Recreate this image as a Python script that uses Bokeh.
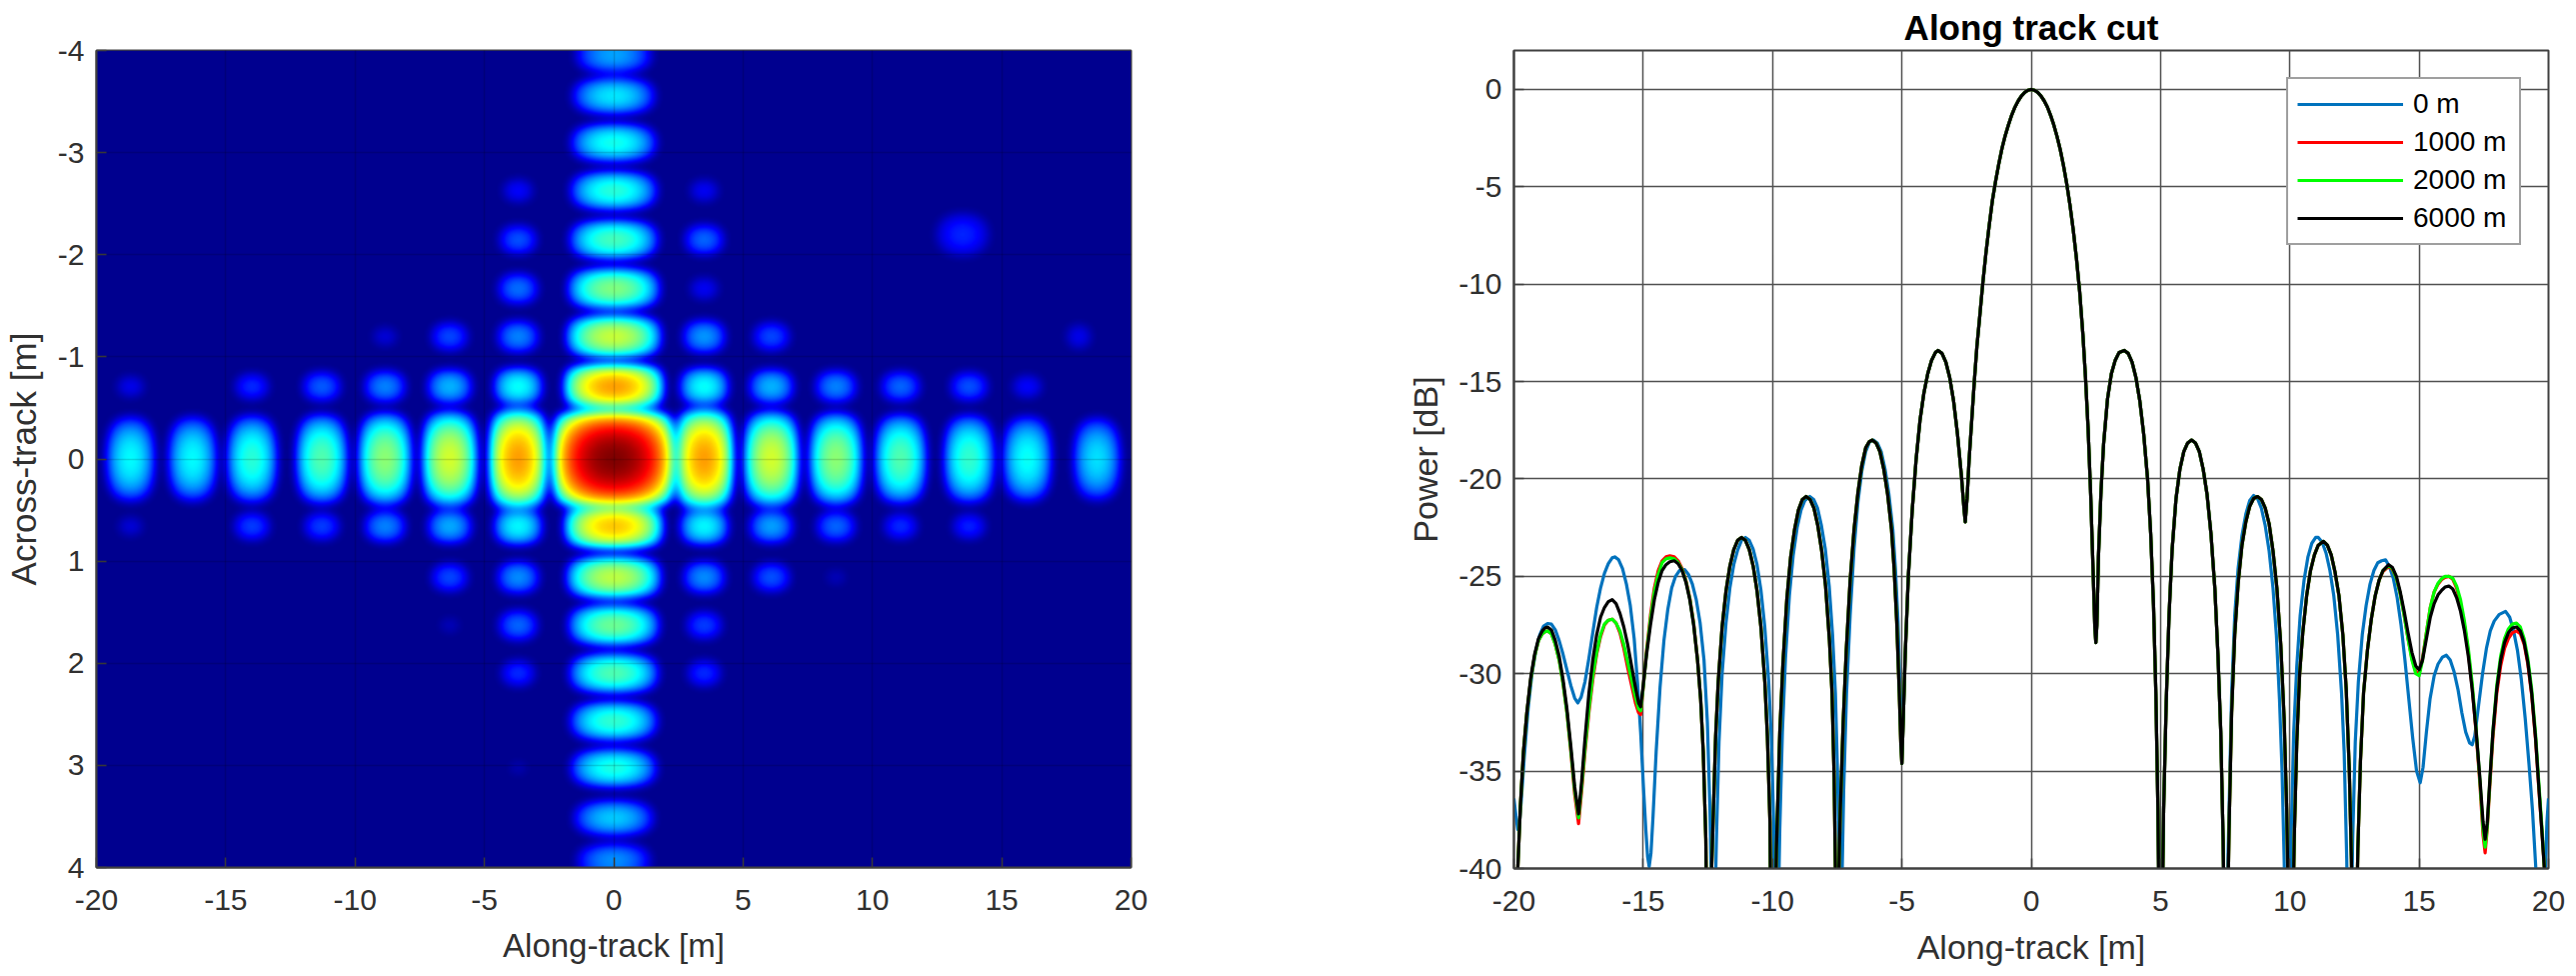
import numpy as np
from bokeh.embed import file_html
from bokeh.layouts import row
from bokeh.models import FixedTicker, LinearColorMapper, Range1d
from bokeh.plotting import figure
from bokeh.resources import INLINE

# ---------- left panel: lobes ----------
along_cols = [-18.7, -16.3, -14.0, -11.3, -8.85, -6.35, -3.7, 0.0, 3.5, 6.1, 8.6, 11.1, 13.75, 16.0, 18.7]
across_rows = [-3.95, -3.56, -3.1, -2.63, -2.15, -1.67, -1.2, -0.71, 0.0, 0.66, 1.16, 1.63, 2.1, 2.57, 3.03, 3.52, 3.93]
lobe_peaks = [
    [0, 0, 0, 0, 0, 0, 0, .28, 0, 0, 0, 0, 0, 0, 0],
    [0, 0, 0, 0, 0, 0, 0, .35, 0, 0, 0, 0, 0, 0, 0],
    [0, 0, 0, 0, 0, 0, 0, .39, 0, 0, 0, 0, 0, 0, 0],
    [0, 0, 0, 0, 0, 0, .12, .41, .11, 0, 0, 0, 0, 0, 0],
    [0, 0, 0, 0, 0, 0, .20, .44, .22, 0, 0, 0, 0, 0, 0],
    [0, 0, 0, 0, 0, 0, .23, .50, .11, 0, 0, 0, 0, 0, 0],
    [0, 0, 0, 0, .08, .19, .25, .57, .27, .19, 0, 0, 0, 0, 0],
    [.10, 0, .16, .21, .25, .30, .38, .72, .38, .30, .25, .22, .20, .12, 0],
    [.37, .37, .41, .45, .51, .58, .72, 1.0, .72, .58, .51, .45, .42, .38, .34],
    [.08, 0, .18, .18, .25, .29, .37, .68, .37, .28, .22, .16, .15, 0, 0],
    [0, 0, 0, 0, 0, .19, .26, .56, .26, .20, .05, 0, 0, 0, 0],
    [0, 0, 0, 0, 0, .05, .22, .48, .18, 0, 0, 0, 0, 0, 0],
    [0, 0, 0, 0, 0, 0, .16, .45, .16, 0, 0, 0, 0, 0, 0],
    [0, 0, 0, 0, 0, 0, 0, .42, 0, 0, 0, 0, 0, 0, 0],
    [0, 0, 0, 0, 0, 0, .04, .40, 0, 0, 0, 0, 0, 0, 0],
    [0, 0, 0, 0, 0, 0, 0, .32, 0, 0, 0, 0, 0, 0, 0],
    [0, 0, 0, 0, 0, 0, 0, .26, 0, 0, 0, 0, 0, 0, 0],
]
stray_x = [13.5, 18.0]
stray_y = [-2.2, -1.2]
stray_peak = [.15, .10]
stray_half_x = [2.0, 1.2]
stray_half_y = [.42, .3]

heat_xticks = [-20, -15, -10, -5, 0, 5, 10, 15, 20]
heat_yticks = [-4, -3, -2, -1, 0, 1, 2, 3, 4]
heat_xlabels = ["-20", "-15", "-10", "-5", "0", "5", "10", "15", "20"]
heat_ylabels = ["-4", "-3", "-2", "-1", "0", "1", "2", "3", "4"]

# ---------- right panel: cuts ----------
left_x = [-20, -19.9, -19.85, -19.75, -19.63, -19.5, -19.35, -19.2, -19.05, -18.9, -18.8, -18.7, -18.55, -18.4, -18.25, -18.1, -17.95, -17.8, -17.65, -17.5,
          -17.38, -17.25, -17.1, -16.95, -16.8, -16.65, -16.5, -16.35, -16.2, -16.05, -15.9, -15.75, -15.6, -15.45, -15.3, -15.18, -15.1,
          -15, -14.87, -14.72, -14.57, -14.42, -14.27, -14.12, -13.97, -13.8, -13.65, -13.5, -13.35, -13.2, -13.05, -12.9, -12.78, -12.68, -12.58, -12.52]
black_left = [-47, -42, -40, -36.8, -34, -32, -30.2, -29, -28.2, -27.8, -27.65, -27.6, -27.75, -28.3, -29.1, -30.3, -31.8, -33.7, -35.8, -37.2,
              -35.5, -33.3, -31, -29.3, -28, -27.1, -26.6, -26.3, -26.2, -26.4, -26.9, -27.6, -28.5, -29.6, -30.7, -31.5, -31.7,
              -30.6, -29, -27.5, -26.2, -25.3, -24.7, -24.4, -24.25, -24.2, -24.35, -24.7, -25.3, -26.2, -27.5, -29.3, -31.3, -34, -38.5, -46]
red_left = [-47, -42, -40, -36.8, -34, -32, -30.3, -29.1, -28.3, -27.95, -27.85, -27.8, -27.95, -28.5, -29.3, -30.5, -32, -34, -36.2, -37.7,
            -36, -34, -32, -30.3, -29, -28.1, -27.5, -27.25, -27.2, -27.4, -27.9, -28.7, -29.7, -30.6, -31.5, -32, -32.1,
            -30.7, -28.8, -27, -25.6, -24.7, -24.2, -24, -23.95, -24, -24.2, -24.6, -25.2, -26.1, -27.4, -29.3, -31.3, -34, -38.5, -46]
green_left = [-47, -42, -40, -36.8, -34, -32, -30.3, -29.1, -28.3, -27.95, -27.85, -27.8, -27.95, -28.5, -29.3, -30.5, -32, -33.9, -36, -37.4,
              -35.8, -33.8, -31.8, -30.1, -28.9, -28, -27.45, -27.25, -27.2, -27.4, -27.8, -28.5, -29.4, -30.3, -31.2, -31.8, -31.9,
              -30.7, -28.9, -27.2, -25.8, -24.9, -24.3, -24.1, -24.05, -24.1, -24.3, -24.65, -25.25, -26.15, -27.45, -29.3, -31.3, -34, -38.5, -46]
shared_mid = [
    (-12.45, -50), (-12.4, -42), (-12.3, -37.6), (-12.2, -33.2), (-12.1, -30.4), (-11.95, -27.6), (-11.8, -25.75), (-11.65, -24.47),
    (-11.5, -23.63), (-11.35, -23.15), (-11.2, -23), (-11.05, -23.15), (-10.9, -23.63), (-10.75, -24.47), (-10.6, -25.75),
    (-10.45, -27.6), (-10.3, -30.4), (-10.2, -33.2), (-10.1, -37.6), (-10.03, -50),
    (-9.93, -45), (-9.85, -39), (-9.72, -33), (-9.6, -29.5), (-9.45, -26.2), (-9.3, -24), (-9.15, -22.6), (-9, -21.6), (-8.85, -21.05),
    (-8.7, -20.9), (-8.55, -21.05), (-8.4, -21.5), (-8.25, -22.4), (-8.1, -23.7), (-7.95, -25.5), (-7.8, -28.3), (-7.7, -31),
    (-7.62, -35.3), (-7.56, -41), (-7.53, -50),
    (-7.45, -41), (-7.38, -37), (-7.27, -32.5), (-7.15, -28.8), (-7, -25.2), (-6.85, -22.6), (-6.7, -20.7), (-6.55, -19.3), (-6.4, -18.4),
    (-6.27, -18.1), (-6.15, -18), (-6, -18.15), (-5.85, -18.6), (-5.7, -19.5), (-5.55, -20.8), (-5.4, -22.6), (-5.3, -24.6), (-5.2, -27.3),
    (-5.1, -31), (-5.04, -33.6), (-5, -34.6),
    (-4.95, -32.5), (-4.87, -29), (-4.75, -25), (-4.6, -21.6), (-4.45, -19), (-4.3, -17), (-4.15, -15.6), (-4, -14.6), (-3.85, -13.9),
    (-3.7, -13.5), (-3.6, -13.4), (-3.45, -13.55), (-3.3, -14), (-3.15, -14.8), (-3, -16), (-2.85, -17.7), (-2.7, -19.8), (-2.6, -21.5),
    (-2.55, -22.2), (-2.48, -21),
    (-2.4, -19), (-2.3, -17), (-2.2, -15), (-2.1, -13.2), (-2, -11.8), (-1.875, -10), (-1.75, -8.4), (-1.625, -7), (-1.5, -5.7),
    (-1.375, -4.7), (-1.25, -3.8), (-1.125, -3), (-1, -2.35), (-.875, -1.8), (-.75, -1.3), (-.625, -.9), (-.5, -.58), (-.375, -.33),
    (-.25, -.15), (-.125, -.04), (0, 0), (.125, -.04), (.25, -.15), (.375, -.33), (.5, -.58), (.625, -.9), (.75, -1.33), (.875, -1.83),
    (1, -2.42), (1.125, -3.1), (1.25, -3.92), (1.375, -4.85), (1.5, -5.94), (1.625, -7.2), (1.75, -8.68), (1.875, -10.4), (2, -12.6),
    (2.1, -14.8), (2.2, -17.4), (2.3, -20.8), (2.4, -25), (2.46, -27.6), (2.5, -28.4),
    (2.54, -27.5), (2.6, -24), (2.7, -20.6), (2.8, -18.2), (2.95, -15.9), (3.1, -14.6), (3.25, -13.9), (3.4, -13.5), (3.6, -13.4),
    (3.75, -13.55), (3.9, -14), (4.05, -14.8), (4.2, -16), (4.35, -17.7), (4.5, -20), (4.62, -22.8), (4.73, -26.5), (4.82, -31),
    (4.9, -37), (4.95, -43), (5, -50),
    (5.06, -43), (5.12, -37), (5.22, -31.5), (5.33, -27), (5.45, -23.6), (5.6, -21), (5.75, -19.5), (5.9, -18.6), (6.05, -18.15),
    (6.2, -18), (6.35, -18.15), (6.5, -18.6), (6.65, -19.5), (6.8, -20.8), (6.95, -22.8), (7.1, -25.6), (7.22, -29), (7.33, -33),
    (7.42, -38.5), (7.48, -44), (7.52, -50),
    (7.58, -44), (7.65, -38), (7.75, -32), (7.87, -28), (8, -25.4), (8.15, -23.4), (8.3, -22.2), (8.45, -21.4), (8.6, -21), (8.75, -20.9),
    (8.9, -21.05), (9.05, -21.5), (9.2, -22.3), (9.35, -23.7), (9.5, -25.6), (9.65, -28.5), (9.78, -32.3), (9.88, -37), (9.96, -43), (10.04, -50),
    (10.1, -44), (10.17, -38.5), (10.27, -33.5), (10.38, -30), (10.5, -27.9), (10.65, -26), (10.8, -24.7), (10.95, -23.9), (11.1, -23.4),
    (11.3, -23.2), (11.45, -23.4), (11.6, -23.9), (11.75, -24.8), (11.9, -26), (12.05, -28), (12.18, -30.8), (12.3, -35), (12.38, -39.5),
    (12.44, -44), (12.5, -50),
]
tail_x = [12.56, 12.63, 12.73, 12.85, 13, 13.15, 13.3, 13.45, 13.6, 13.82, 13.97, 14.12, 14.27, 14.42, 14.57, 14.72, 14.87, 15,
          15.13, 15.28, 15.43, 15.58, 15.73, 15.88, 16, 16.15, 16.3, 16.45, 16.6, 16.75, 16.9, 17.05, 17.2, 17.35, 17.47, 17.55,
          17.63, 17.73, 17.85, 18, 18.15, 18.3, 18.45, 18.6, 18.76, 18.91, 19.06, 19.2, 19.35, 19.5, 19.62, 19.74, 19.84, 19.9, 20]
black_tail = [-44, -39, -34.5, -31, -28.8, -27.2, -26, -25.2, -24.7, -24.4, -24.55, -25, -25.8, -26.8, -27.9, -28.9, -29.6, -29.8,
              -29.3, -28.2, -27.1, -26.4, -25.95, -25.7, -25.55, -25.5, -25.65, -26.1, -26.8, -27.8, -29.1, -30.8, -32.9, -35.4, -37.6, -38.5,
              -37.7, -35.5, -33, -30.8, -29.3, -28.4, -27.9, -27.65, -27.6, -27.8, -28.4, -29.4, -31, -33.3, -35.7, -38, -40, -44, -50]
red_tail = [-44, -39, -34.5, -31, -28.8, -27.2, -26, -25.2, -24.75, -24.5, -24.65, -25.1, -25.9, -27, -28.2, -29.2, -29.9, -30,
            -29.2, -27.9, -26.6, -25.8, -25.4, -25.15, -25.05, -25.0, -25.15, -25.6, -26.4, -27.5, -28.9, -30.7, -33, -35.7, -38.3, -39.2,
            -38, -35.8, -33.3, -31, -29.6, -28.7, -28.2, -27.9, -27.8, -27.95, -28.5, -29.5, -31.1, -33.4, -35.8, -38, -40, -44, -50]
green_tail = [-44, -39, -34.5, -31, -28.8, -27.2, -26, -25.2, -24.7, -24.45, -24.6, -25.1, -25.9, -27, -28.2, -29.3, -30, -30.1,
              -29.3, -27.9, -26.6, -25.8, -25.35, -25.1, -25, -25, -25.1, -25.5, -26.2, -27.3, -28.7, -30.5, -32.8, -35.5, -38, -38.9,
              -37.9, -35.6, -33, -30.6, -29.1, -28.2, -27.7, -27.45, -27.4, -27.6, -28.2, -29.2, -30.8, -33.1, -35.5, -37.8, -40, -44, -50]
blue_left = [
    (-20, -36.4), (-19.93, -37.2), (-19.85, -38), (-19.8, -38), (-19.72, -36.6), (-19.6, -34.3), (-19.45, -31.8), (-19.3, -30), (-19.15, -28.8),
    (-19, -28), (-18.85, -27.55), (-18.7, -27.42), (-18.55, -27.45), (-18.4, -27.75), (-18.25, -28.3), (-18.1, -29), (-17.95, -29.8), (-17.8, -30.6),
    (-17.65, -31.25), (-17.53, -31.5), (-17.4, -31.2), (-17.25, -30.4), (-17.1, -29.2), (-16.95, -27.9), (-16.8, -26.6), (-16.65, -25.6), (-16.5, -24.85),
    (-16.35, -24.35), (-16.2, -24.05), (-16.1, -24), (-15.95, -24.15), (-15.8, -24.6), (-15.65, -25.4), (-15.5, -26.5), (-15.35, -28.2), (-15.22, -30.5),
    (-15.1, -33), (-15, -35.6), (-14.9, -38), (-14.83, -39.4), (-14.77, -39.9), (-14.7, -39.2), (-14.62, -37.3), (-14.5, -34), (-14.35, -30.7), (-14.2, -28.3),
    (-14.05, -26.7), (-13.9, -25.6), (-13.75, -25), (-13.6, -24.7), (-13.4, -24.65), (-13.25, -24.9), (-13.1, -25.4), (-12.95, -26.2), (-12.8, -27.4),
    (-12.65, -29.3), (-12.52, -32.5), (-12.42, -37), (-12.35, -42), (-12.3, -50),
    (-12.24, -43), (-12.17, -38.5), (-12.07, -33.5), (-11.95, -30), (-11.8, -27.4), (-11.65, -25.6), (-11.5, -24.4), (-11.35, -23.65), (-11.2, -23.15),
    (-11.05, -23), (-10.9, -23.15), (-10.75, -23.6), (-10.6, -24.4), (-10.45, -25.7), (-10.3, -27.6), (-10.15, -30.4), (-10.05, -33.2), (-9.96, -37.5),
    (-9.9, -42), (-9.85, -50),
    (-9.79, -43), (-9.72, -38), (-9.62, -33), (-9.5, -29.2), (-9.35, -26), (-9.2, -23.9), (-9.05, -22.5), (-8.9, -21.6), (-8.75, -21.1), (-8.56, -20.9),
    (-8.41, -21.05), (-8.26, -21.5), (-8.11, -22.4), (-7.96, -23.6), (-7.81, -25.5), (-7.68, -28), (-7.57, -31), (-7.48, -35.5), (-7.42, -41), (-7.38, -50),
    (-7.32, -41), (-7.25, -36), (-7.14, -31), (-7, -27), (-6.85, -23.6), (-6.7, -21.2), (-6.55, -19.6), (-6.4, -18.6), (-6.25, -18.1), (-6.1, -18),
    (-5.95, -18.15), (-5.8, -18.6), (-5.65, -19.5), (-5.5, -20.8), (-5.35, -22.6), (-5.25, -24.6), (-5.15, -27.3), (-5.07, -31),
]
blue_right = [
    (7.58, -41), (7.65, -37), (7.75, -31), (7.87, -27), (8, -24.6), (8.15, -22.9), (8.3, -21.8), (8.45, -21.1), (8.6, -20.85), (8.75, -21), (8.9, -21.5),
    (9.05, -22.4), (9.2, -23.7), (9.35, -25.6), (9.48, -28), (9.6, -31.3), (9.7, -35), (9.78, -39.5), (9.85, -44), (9.92, -50),
    (9.98, -44), (10.05, -38.5), (10.15, -33), (10.27, -29.6), (10.4, -27), (10.55, -25.2), (10.7, -24), (10.85, -23.3), (11, -23), (11.1, -23), (11.25, -23.25),
    (11.4, -23.8), (11.55, -24.7), (11.7, -26), (11.85, -28), (12, -31), (12.1, -34), (12.2, -39.5), (12.25, -44), (12.3, -50),
    (12.36, -44), (12.43, -38.5), (12.53, -33.5), (12.65, -30.4), (12.8, -28), (12.95, -26.5), (13.1, -25.4), (13.25, -24.7), (13.4, -24.3), (13.55, -24.2),
    (13.7, -24.15), (13.85, -24.5), (14, -25.1), (14.15, -26.1), (14.3, -27.5), (14.45, -29.3), (14.6, -31.3), (14.75, -33.3), (14.9, -35), (15.04, -35.6),
    (15.15, -34.8), (15.28, -33), (15.42, -31.3), (15.58, -30.1), (15.73, -29.5), (15.9, -29.15), (16.05, -29.05), (16.2, -29.3), (16.35, -29.9), (16.5, -30.8),
    (16.65, -32), (16.8, -33), (16.95, -33.55), (17.05, -33.65), (17.15, -33.2), (17.3, -31.6), (17.45, -30), (17.6, -28.7), (17.75, -27.8), (17.9, -27.3),
    (18.1, -26.95), (18.34, -26.8), (18.5, -27.1), (18.65, -27.8), (18.8, -28.8), (18.95, -30.3), (19.1, -32.3), (19.25, -34.7), (19.38, -37), (19.51, -40),
    (19.62, -44), (19.72, -50), (19.82, -44), (19.88, -40), (19.94, -37.6), (20, -36.4),
]

series_names = ["0 m", "1000 m", "2000 m", "6000 m"]
cut_xticks = [-20, -15, -10, -5, 0, 5, 10, 15, 20]
cut_yticks = [0, -5, -10, -15, -20, -25, -30, -35, -40]
cut_xlabels = ["-20", "-15", "-10", "-5", "0", "5", "10", "15", "20"]
cut_ylabels = ["0", "-5", "-10", "-15", "-20", "-25", "-30", "-35", "-40"]

FONT = "Liberation Sans"
TXT = "#303030"


def jet(n=256):
    out = []
    for i in range(n):
        v = 0.0156 + 0.9844 * i / (n - 1)
        r = np.clip(1.5 - abs(4 * v - 3), 0, 1)
        g = np.clip(1.5 - abs(4 * v - 2), 0, 1)
        b = np.clip(1.5 - abs(4 * v - 1), 0, 1)
        out.append("#%02x%02x%02x" % (int(r * 255), int(g * 255), int(b * 255)))
    return out


def lobe(z, gx, gy, cx, cy, peak, hx, hy):
    """Paint one side lobe of a given peak: flat-topped in a dB-like scale."""
    if peak <= 0:
        return
    ix = np.abs(gx - cx) < hx
    iy = np.abs(gy - cy) < hy
    fx = np.full(gx.shape, -99.0)
    fy = np.full(gy.shape, -99.0)
    fx[ix] = np.log10(np.cos(np.pi * (gx[ix] - cx) / (2 * hx)) + 1e-9)
    fy[iy] = np.log10(np.cos(np.pi * (gy[iy] - cy) / (2 * hy)) + 1e-9)
    v = peak + 0.7 * (fx[None, :] + fy[:, None])
    np.maximum(z, v, out=z)


def soften(z, r=4):
    """The reference is an upscaled bitmap: two box passes give its soft edges."""
    for axis in (0, 1):
        for _ in range(2):
            a = np.moveaxis(z, axis, 0)
            pad = np.pad(a, ((r + 1, r), (0, 0)), mode="edge")
            cs = np.cumsum(pad, axis=0)
            a = (cs[2 * r + 1:] - cs[:-(2 * r + 1)]) / (2 * r + 1)
            z = np.moveaxis(a, 0, axis)
    return z.astype(np.float32)


def heat_image():
    gx = np.linspace(-20, 20, 1035)
    gy = np.linspace(-4, 4, 817)
    z = np.zeros((gy.size, gx.size), dtype=np.float64)
    for r, cy in enumerate(across_rows):
        for c, cx in enumerate(along_cols):
            hx = 2.55 if cx == 0 and cy == 0 else (2.2 if cx == 0 else 1.32)
            hy = 0.52 if cx == 0 and cy == 0 else (0.56 if cy == 0 else 0.265)
            lobe(z, gx, gy, cx, cy, lobe_peaks[r][c], hx, hy)
    for cx, cy, pk, hx, hy in zip(stray_x, stray_y, stray_peak, stray_half_x, stray_half_y):
        lobe(z, gx, gy, cx, cy, pk, hx, hy)
    return soften(z)


def style(p, xt, xl, yt, yl):
    p.xaxis.ticker = FixedTicker(ticks=xt)
    p.yaxis.ticker = FixedTicker(ticks=yt)
    p.xaxis.major_label_overrides = dict(zip(xt, xl))
    p.yaxis.major_label_overrides = dict(zip(yt, yl))
    for ax in (p.xaxis[0], p.yaxis[0]):
        ax.major_label_text_font = FONT
        ax.major_label_text_font_size = "30px"
        ax.major_label_text_color = TXT
        ax.axis_label_text_font = FONT
        ax.axis_label_text_font_size = "33px"
        ax.axis_label_text_font_style = "normal"
        ax.axis_label_text_color = TXT
        ax.major_tick_in = 10
        ax.major_tick_out = 0
        ax.minor_tick_line_color = None
        ax.axis_line_color = "#404040"
        ax.major_tick_line_color = "#404040"
        ax.axis_line_width = 2
        ax.major_tick_line_width = 1.5
    p.xaxis.major_label_standoff = 22
    p.yaxis.major_label_standoff = 12
    p.xaxis.axis_label_standoff = 14
    p.outline_line_color = "#404040"
    p.outline_line_width = 2


# ---------- left figure ----------
h = figure(frame_width=1035, frame_height=817, x_range=Range1d(-20, 20), y_range=Range1d(4, -4),
           output_backend="svg", toolbar_location=None, min_border_left=94, min_border_top=49,
           min_border_bottom=104, min_border_right=150, x_axis_label="Along-track [m]",
           y_axis_label="Across-track [m]")
h.image(image=[heat_image()], x=-20, y=-4, dw=40, dh=8,
        color_mapper=LinearColorMapper(palette=jet(), low=0, high=1), level="image")
style(h, heat_xticks, heat_xlabels, heat_yticks, heat_ylabels)
h.yaxis.axis_label_standoff = 12
h.yaxis.axis_label_text_font_size = "35px"
h.grid.grid_line_color = "#000000"
h.grid.grid_line_alpha = 0.14
h.grid.grid_line_width = 1.5
h.grid.level = "overlay"

# ---------- right figure ----------
c = figure(frame_width=1035, frame_height=818, x_range=Range1d(-20, 20), y_range=Range1d(-40, 2),
           output_backend="svg", toolbar_location=None, min_border_left=233, min_border_top=50,
           min_border_bottom=103, min_border_right=20, x_axis_label="Along-track [m]",
           y_axis_label="Power [dB]", title="Along track cut")
style(c, cut_xticks, cut_xlabels, cut_yticks, cut_ylabels)
c.yaxis.axis_label_standoff = 11
c.xaxis.axis_label_text_font_size = "34px"
c.yaxis.axis_label_text_font_size = "34px"
c.title.align = "center"
c.title.text_font = FONT
c.title.text_font_size = "35px"
c.title.text_font_style = "bold"
c.title.text_color = "#000000"
c.title.text_line_height = 0.9
c.title.standoff = 8
c.grid.grid_line_color = "#505050"
c.grid.grid_line_width = 1.5

mid_x = [pt[0] for pt in shared_mid]
mid_y = [pt[1] for pt in shared_mid]
i0, i1 = mid_x.index(-5), mid_x.index(7.52) + 1
blue_x = [pt[0] for pt in blue_left] + mid_x[i0:i1] + [pt[0] for pt in blue_right]
blue_y = [pt[1] for pt in blue_left] + mid_y[i0:i1] + [pt[1] for pt in blue_right]
all_x = left_x + mid_x + tail_x
LW = 3.2
c.line(blue_x, blue_y, line_color="#0072BD", line_width=LW, legend_label=series_names[0], line_join="round")
c.line(all_x, red_left + mid_y + red_tail, line_color="#FF0000", line_width=LW, legend_label=series_names[1], line_join="round")
c.line(all_x, green_left + mid_y + green_tail, line_color="#00FF00", line_width=LW, legend_label=series_names[2], line_join="round")
c.line(all_x, black_left + mid_y + black_tail, line_color="#000000", line_width=LW, legend_label=series_names[3], line_join="round")

lg = c.legend[0]
lg.location = (773, 623)
lg.margin = 0
lg.padding = 9
lg.spacing = 6
lg.glyph_width = 106
lg.label_standoff = 10
lg.label_width = 97
lg.label_height = 30
lg.glyph_height = 30
lg.label_text_font = FONT
lg.label_text_font_size = "28px"
lg.label_text_color = "#000000"
lg.border_line_color = "#404040"
lg.border_line_width = 2
lg.background_fill_color = "#ffffff"
lg.background_fill_alpha = 1

page = row(h, c, spacing=0)
open("out.html", "w").write(file_html(page, INLINE))
